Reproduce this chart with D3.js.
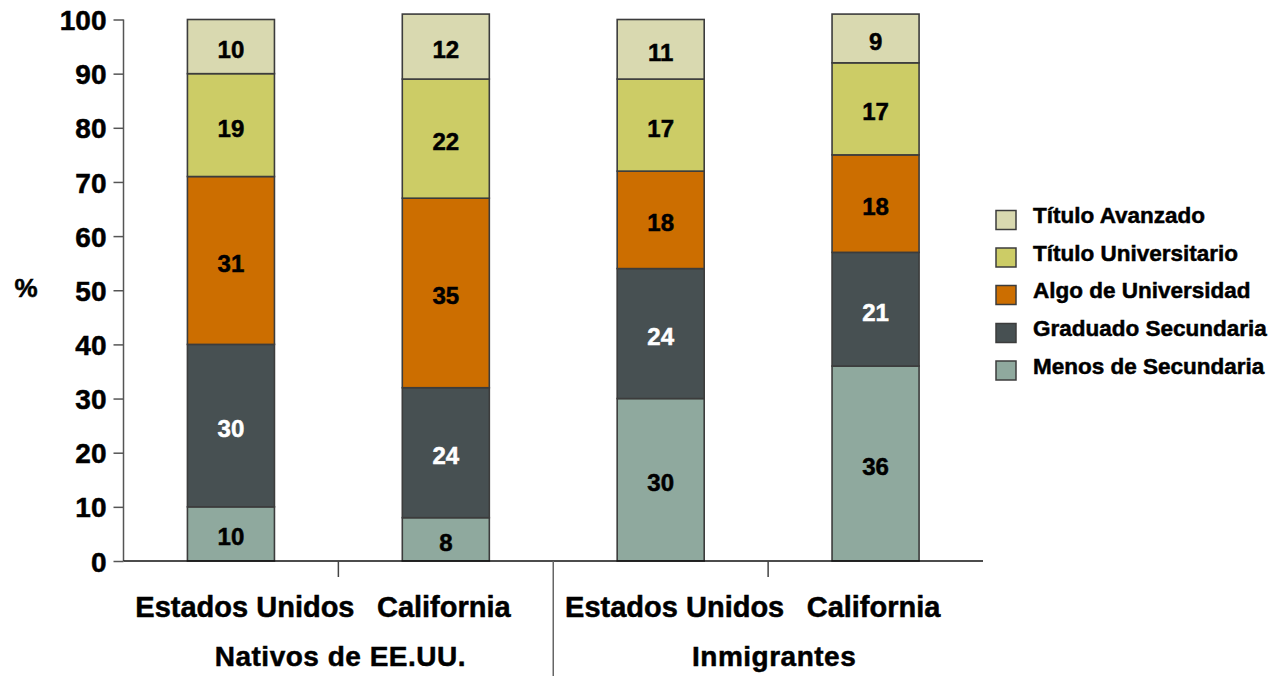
<!DOCTYPE html>
<html>
<head>
<meta charset="utf-8">
<script src="https://cdn.jsdelivr.net/npm/d3@7/dist/d3.min.js"></script>
<style>
  html, body { margin: 0; padding: 0; background: #fff; }
  svg { display: block; font-family: "Liberation Sans", Arial, sans-serif; font-weight: bold; }
  text { stroke-width: 0.5px; }
</style>
</head>
<body>
<svg id="chart" width="1271" height="676"></svg>
<script>
// Educational attainment (%) by place, for US natives and immigrants
const categories = ["Estados Unidos", "California", "Estados Unidos", "California"];
const groups = ["Nativos de EE.UU.", "Inmigrantes"];
const levels = ["Menos de Secundaria", "Graduado Secundaria", "Algo de Universidad", "Título Universitario", "Título Avanzado"];

const menosSecundaria     = [10, 8, 30, 36];
const graduadoSecundaria  = [30, 24, 24, 21];
const algoUniversidad     = [31, 35, 18, 18];
const tituloUniversitario = [19, 22, 17, 17];
const tituloAvanzado      = [10, 12, 11, 9];

const yTicks = [0, 10, 20, 30, 40, 50, 60, 70, 80, 90, 100];
const colors = ["#8fa99e", "#475052", "#cc6e00", "#cccc66", "#d9d9b0"];
const labelColors = ["#000", "#fff", "#000", "#000", "#000"];

const series = [menosSecundaria, graduadoSecundaria, algoUniversidad, tituloUniversitario, tituloAvanzado];
const rows = categories.map((c, i) => {
  const r = { idx: i };
  levels.forEach((k, j) => { r[k] = series[j][i]; });
  return r;
});

const svg = d3.select("#chart");
const plotLeft = 123.5, plotRight = 983, plotTop = 19.5, plotBottom = 561;

const x = d3.scaleBand().domain(d3.range(categories.length)).range([plotLeft, plotRight]).padding(0);
const y = d3.scaleLinear().domain([0, 100]).range([plotBottom, plotTop]);
const color = d3.scaleOrdinal().domain(levels).range(colors);
const barW = x.bandwidth() * 0.405;

const stacked = d3.stack().keys(levels)(rows);

// bars
const layer = svg.append("g").selectAll("g").data(stacked).join("g")
  .attr("fill", d => color(d.key));

layer.selectAll("rect").data(d => d).join("rect")
  .attr("x", d => x(d.data.idx) + (x.bandwidth() - barW) / 2)
  .attr("y", d => y(d[1]))
  .attr("width", barW)
  .attr("height", d => y(d[0]) - y(d[1]))
  .attr("stroke", "#3c3c3c")
  .attr("stroke-width", 1.6);

// value labels inside segments
stacked.forEach((s, j) => {
  svg.append("g").selectAll("text").data(s).join("text")
    .attr("x", d => x(d.data.idx) + x.bandwidth() / 2)
    .attr("y", d => (y(d[0]) + y(d[1])) / 2 + 11.5)
    .attr("text-anchor", "middle")
    .attr("font-size", 24)
    .attr("fill", labelColors[j])
    .attr("stroke", labelColors[j])
    .text(d => d.data[s.key]);
});

// y axis
const yAxis = svg.append("g")
  .attr("transform", `translate(${plotLeft},0)`)
  .call(d3.axisLeft(y).tickValues(yTicks).tickSize(10).tickPadding(7));
yAxis.select(".domain").attr("stroke", "#555").attr("stroke-width", 1.5).attr("d", `M0,${plotTop}V${plotBottom}`);
yAxis.selectAll(".tick line").attr("stroke", "#555").attr("stroke-width", 1.5);
yAxis.selectAll(".tick text")
  .attr("font-size", 28).attr("font-weight", "bold").attr("fill", "#000").attr("stroke", "#000")
  .attr("font-family", "'Liberation Sans', Arial, sans-serif")
  .attr("dy", "0.36em");

svg.append("text")
  .attr("x", 26).attr("y", 297)
  .attr("text-anchor", "middle")
  .attr("font-size", 26)
  .attr("stroke", "#000")
  .text("%");

// x axis baseline
svg.append("line")
  .attr("x1", plotLeft).attr("x2", plotRight)
  .attr("y1", plotBottom).attr("y2", plotBottom)
  .attr("stroke", "#111").attr("stroke-width", 1.5);

// short ticks between places inside each group
[1, 3].forEach(i => {
  svg.append("line")
    .attr("x1", x(i)).attr("x2", x(i))
    .attr("y1", plotBottom).attr("y2", plotBottom + 16)
    .attr("stroke", "#444").attr("stroke-width", 1.5);
});
// separator between groups
svg.append("line")
  .attr("x1", x(2)).attr("x2", x(2))
  .attr("y1", plotBottom).attr("y2", 676)
  .attr("stroke", "#666").attr("stroke-width", 1.5);

// place labels (the wider label is nudged right)
const nudge = name => name.length > 12 ? 14 : -2;
svg.append("g").selectAll("text").data(categories).join("text")
  .attr("x", (d, i) => x(i) + x.bandwidth() / 2 + nudge(d))
  .attr("y", 617)
  .attr("text-anchor", "middle")
  .attr("font-size", 29)
  .attr("stroke", "#000")
  .text(d => d);

// group labels
svg.append("g").selectAll("text").data(groups).join("text")
  .attr("x", (d, i) => (x(i * 2) + x(i * 2 + 1) + x.bandwidth()) / 2 + (i === 0 ? 2 : 6))
  .attr("y", 666)
  .attr("text-anchor", "middle")
  .attr("font-size", 28)
  .attr("letter-spacing", 0.5)
  .attr("stroke", "#000")
  .text(d => d);

// legend, top entry is the highest level
const legendLevels = levels.slice().reverse();
const legendY = [220, 257.5, 295, 333, 370.5];
const legend = svg.append("g").selectAll("g").data(legendLevels).join("g")
  .attr("transform", (d, i) => `translate(996,${legendY[i]})`);
legend.append("rect")
  .attr("x", 0).attr("y", -9.5)
  .attr("width", 20).attr("height", 19)
  .attr("fill", d => color(d))
  .attr("stroke", "#3c3c3c").attr("stroke-width", 1.5);
legend.append("text")
  .attr("x", 37).attr("y", 3)
  .attr("font-size", 22.5)
  .attr("stroke", "#000")
  .text(d => d);
</script>
</body>
</html>
